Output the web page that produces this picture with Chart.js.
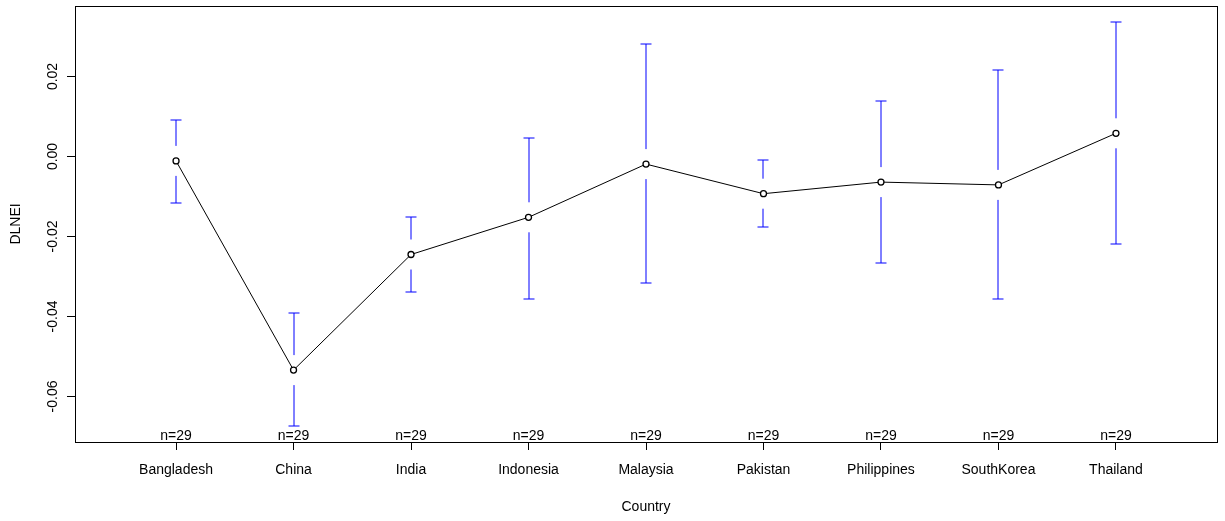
<!DOCTYPE html>
<html>
<head>
<meta charset="utf-8">
<script src="https://cdn.jsdelivr.net/npm/chart.js@4/dist/chart.umd.min.js"></script>
<style>
  html, body { margin: 0; padding: 0; background: #fff; }
  #wrap { width: 1225px; height: 521px; }
</style>
</head>
<body>
<div id="wrap"><canvas id="chart" width="1225" height="521"></canvas></div>
<script>
/* ── Data ── */
const countries = ["Bangladesh", "China", "India", "Indonesia", "Malaysia", "Pakistan", "Philippines", "SouthKorea", "Thailand"];
const means = [-0.0011, -0.0534, -0.0245, -0.0152, -0.0019, -0.0093, -0.0064, -0.0071, 0.0058];
const ciUpper = [0.0091, -0.0391, -0.0152, 0.0047, 0.0281, -0.0009, 0.0140, 0.0216, 0.0336];
const ciLower = [-0.0116, -0.0674, -0.0338, -0.0355, -0.0316, -0.0176, -0.0267, -0.0357, -0.0220];
const counts = [29, 29, 29, 29, 29, 29, 29, 29, 29];
const yTicks = [-0.06, -0.04, -0.02, 0.00, 0.02];

const FONT = "'Liberation Sans', Arial, Helvetica, sans-serif";

/* ── Error bars, n= labels, box, axis titles ── */
const extras = {
  id: "extras",
  beforeDatasetsDraw(chart) {
    const { ctx } = chart;
    const xs = chart.scales.x, ys = chart.scales.y;
    const gap = 15, cap = 5.5;
    ctx.save();
    ctx.strokeStyle = "#0000ff";
    ctx.lineWidth = 1;
    means.forEach((m, i) => {
      const px = Math.round(xs.getPixelForValue(i + 1));
      const pm = ys.getPixelForValue(m);
      const pu = Math.round(ys.getPixelForValue(ciUpper[i]));
      const pl = Math.round(ys.getPixelForValue(ciLower[i]));
      ctx.beginPath();
      if (pm - gap > pu) { ctx.moveTo(px, pu); ctx.lineTo(px, pm - gap); }
      if (pm + gap < pl) { ctx.moveTo(px, pm + gap); ctx.lineTo(px, pl); }
      ctx.moveTo(px - cap, pu); ctx.lineTo(px + cap, pu);
      ctx.moveTo(px - cap, pl); ctx.lineTo(px + cap, pl);
      ctx.stroke();
    });
    ctx.restore();
  },
  afterDraw(chart) {
    const { ctx, chartArea: a } = chart;
    const xs = chart.scales.x, ys = chart.scales.y;
    ctx.save();
    // box
    ctx.strokeStyle = "#000";
    ctx.lineWidth = 1;
    ctx.strokeRect(Math.round(a.left) + 0.5, Math.round(a.top) + 0.5, Math.round(a.right - a.left), Math.round(a.bottom - a.top));
    // n= labels
    ctx.fillStyle = "#000";
    ctx.font = "14px " + FONT;
    ctx.textAlign = "center";
    ctx.textBaseline = "alphabetic";
    counts.forEach((n, i) => {
      ctx.fillText("n=" + n, xs.getPixelForValue(i + 1), a.bottom - 2);
    });
    // y tick labels (rotated)
    yTicks.forEach(v => {
      const py = ys.getPixelForValue(v);
      ctx.save();
      ctx.translate(57, py);
      ctx.rotate(-Math.PI / 2);
      ctx.textAlign = "center";
      ctx.fillText(v.toFixed(2), 0, 0);
      ctx.restore();
    });
    // y title
    ctx.save();
    ctx.translate(20, (a.top + a.bottom) / 2);
    ctx.rotate(-Math.PI / 2);
    ctx.fillText("DLNEI", 0, 0);
    ctx.restore();
    // x title
    ctx.fillText("Country", (a.left + a.right) / 2, 511);
    ctx.restore();
  }
};

new Chart(document.getElementById("chart"), {
  type: "scatter",
  data: {
    datasets: [{
      data: means.map((m, i) => ({ x: i + 1, y: m })),
      showLine: true,
      borderColor: "#000",
      borderWidth: 1,
      pointRadius: 3,
      pointBorderWidth: 1.3,
      pointBorderColor: "#000",
      pointBackgroundColor: "#fff"
    }]
  },
  options: {
    responsive: false,
    animation: false,
    devicePixelRatio: 1,
    layout: { padding: { left: 0, right: 8, top: 6, bottom: 0 } },
    plugins: { legend: { display: false }, tooltip: { enabled: false } },
    scales: {
      x: {
        type: "linear",
        min: 0.14,
        max: 9.86,
        afterBuildTicks: s => { s.ticks = countries.map((c, i) => ({ value: i + 1 })); },
        afterFit: s => { s.height = 79; },
        grid: { drawOnChartArea: false, drawTicks: true, tickLength: 8, tickColor: "#000", tickWidth: 1 },
        border: { display: true, color: "#000", width: 1 },
        ticks: {
          padding: 12,
          color: "#000",
          maxRotation: 0,
          autoSkip: false,
          font: { family: FONT, size: 14 },
          callback: v => countries[v - 1] || ""
        }
      },
      y: {
        type: "linear",
        min: -0.071375,
        max: 0.037625,
        afterBuildTicks: s => { s.ticks = yTicks.map(v => ({ value: v })); },
        afterFit: s => { s.width = 75; },
        grid: { drawOnChartArea: false, drawTicks: true, tickLength: 8, tickColor: "#000", tickWidth: 1 },
        border: { display: true, color: "#000", width: 1 },
        ticks: { display: false }
      }
    }
  },
  plugins: [extras]
});
</script>
</body>
</html>
